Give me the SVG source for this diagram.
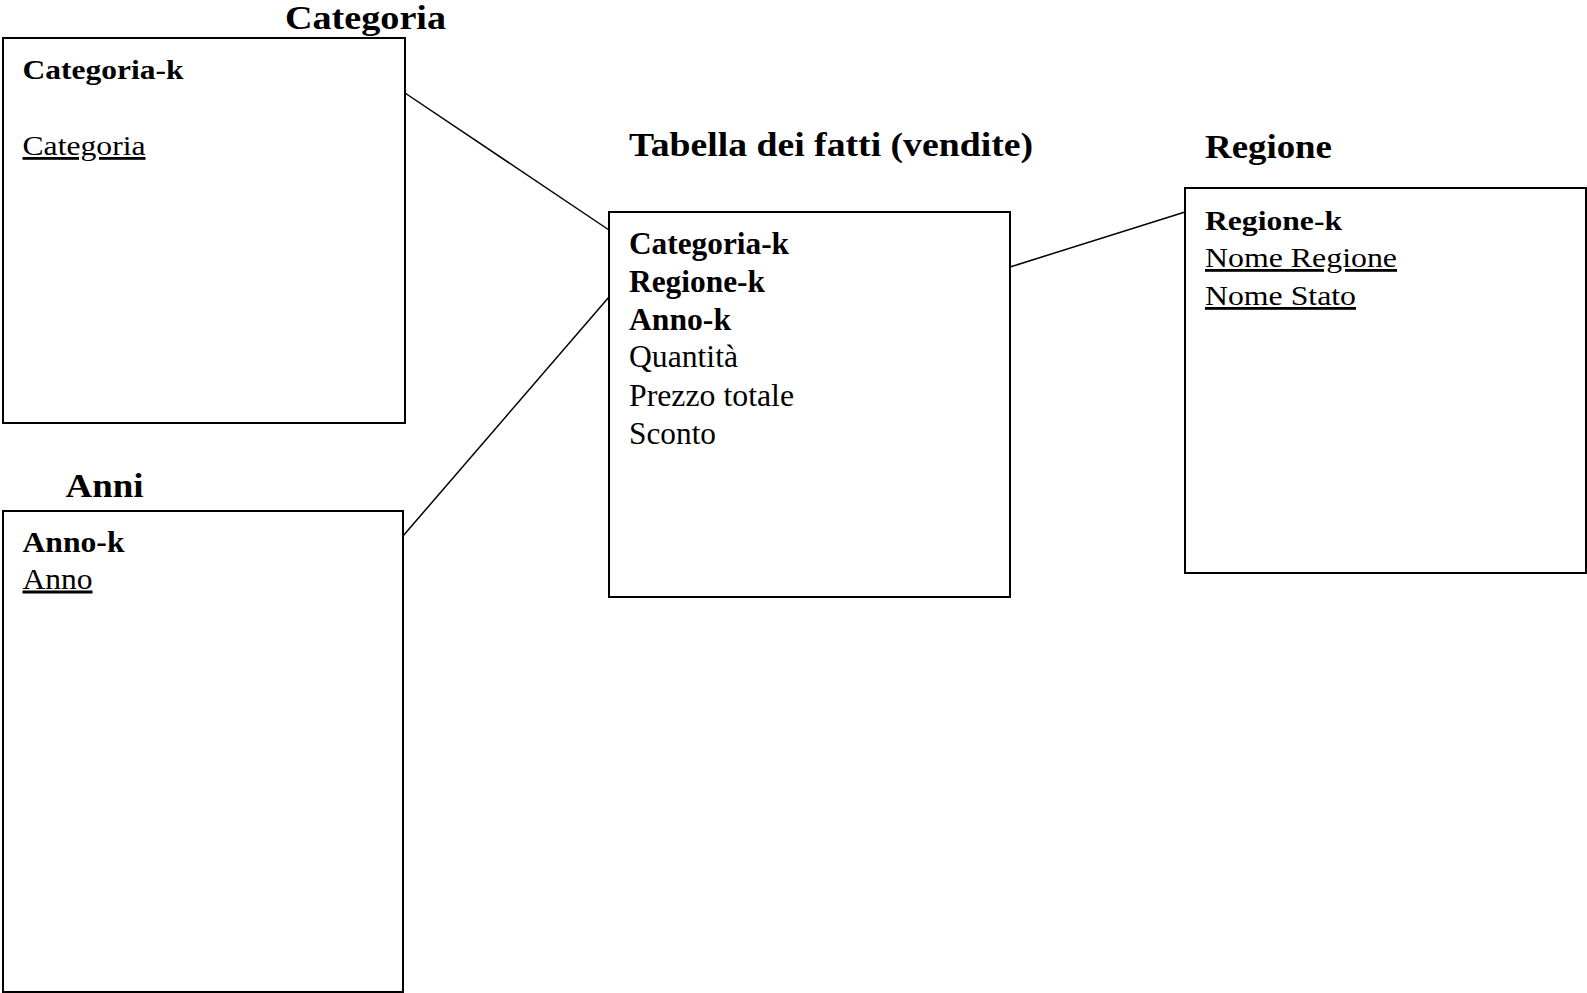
<svg xmlns="http://www.w3.org/2000/svg" width="1587" height="993" viewBox="0 0 1587 993">
<style>
.box{fill:#fff;stroke:#000;stroke-width:2}
.conn{stroke:#000;stroke-width:1.5;fill:none}
text{font-family:"Liberation Serif","Times New Roman",serif;fill:#000}
.title{font-size:33px;font-weight:bold}
.b{font-weight:bold}
.s28{font-size:28px}
.s30{font-size:30px}
.s32{font-size:32px}
.u{text-decoration:underline}
</style>
<rect width="1587" height="993" fill="#fff"/>
<g id="connectors">
<line class="conn" x1="405" y1="93" x2="609" y2="230"/>
<line class="conn" x1="403" y1="536" x2="609" y2="297"/>
<line class="conn" x1="1010" y1="267" x2="1185" y2="212"/>
</g>
<g id="categoria">
<text class="title" x="285" y="29" textLength="161" lengthAdjust="spacingAndGlyphs">Categoria</text>
<rect class="box" x="3" y="38" width="402" height="385"/>
<text class="b s28" x="22.5" y="78.5" textLength="161" lengthAdjust="spacingAndGlyphs">Categoria-k</text>
<text class="s28 u" x="22.5" y="155" textLength="123" lengthAdjust="spacingAndGlyphs">Categoria</text>
</g>
<g id="anni">
<text class="title" x="65.5" y="497" textLength="78" lengthAdjust="spacingAndGlyphs">Anni</text>
<rect class="box" x="3" y="511" width="400" height="481"/>
<text class="b s30" x="22.5" y="552" textLength="102" lengthAdjust="spacingAndGlyphs">Anno-k</text>
<text class="s30 u" x="22.5" y="588.5" textLength="70" lengthAdjust="spacingAndGlyphs">Anno</text>
</g>
<g id="fatti">
<text class="title" x="629" y="156" textLength="404" lengthAdjust="spacingAndGlyphs">Tabella dei fatti (vendite)</text>
<rect class="box" x="609" y="212" width="401" height="385"/>
<text class="b s32" x="629" y="253.5" textLength="160" lengthAdjust="spacingAndGlyphs">Categoria-k</text>
<text class="b s32" x="629" y="292" textLength="136" lengthAdjust="spacingAndGlyphs">Regione-k</text>
<text class="b s32" x="629" y="330" textLength="102" lengthAdjust="spacingAndGlyphs">Anno-k</text>
<text class="s32" x="629" y="367" textLength="109" lengthAdjust="spacingAndGlyphs">Quantità</text>
<text class="s32" x="629" y="405.5" textLength="165" lengthAdjust="spacingAndGlyphs">Prezzo totale</text>
<text class="s32" x="629" y="444" textLength="87" lengthAdjust="spacingAndGlyphs">Sconto</text>
</g>
<g id="regione">
<text class="title" x="1205" y="158" textLength="127" lengthAdjust="spacingAndGlyphs">Regione</text>
<rect class="box" x="1185" y="188" width="401" height="385"/>
<text class="b s28" x="1205" y="230" textLength="137" lengthAdjust="spacingAndGlyphs">Regione-k</text>
<text class="s28 u" x="1205" y="267" textLength="192" lengthAdjust="spacingAndGlyphs">Nome Regione</text>
<text class="s28 u" x="1205" y="305" textLength="151" lengthAdjust="spacingAndGlyphs">Nome Stato</text>
</g>
</svg>
